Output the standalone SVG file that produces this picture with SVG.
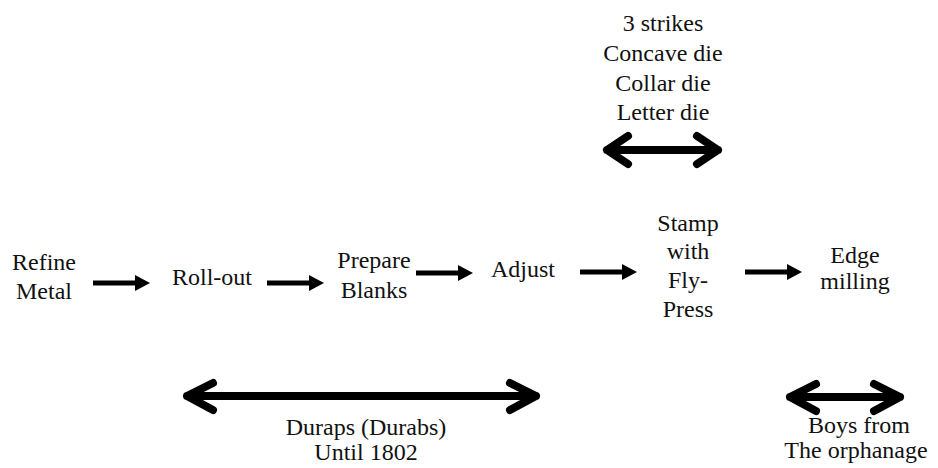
<svg xmlns="http://www.w3.org/2000/svg" width="938" height="468" viewBox="0 0 938 468">
<style>
text{font-family:'Liberation Serif','DejaVu Serif','Times New Roman',serif;font-size:24px;fill:#111;text-anchor:middle}
.arr{fill:#000}
.dbl{fill:none;stroke:#000;stroke-width:8;stroke-linecap:round;stroke-linejoin:round}
</style>
<defs>
<polygon id="ar" points="0,-2.5 42,-2.5 42,-8 57,0 42,8 42,2.5 0,2.5"/>
</defs>
<rect width="938" height="468" fill="#fff"/>
<g id="n-refine"><text x="44" y="270">Refine</text><text x="44" y="299">Metal</text></g>
<g id="n-rollout"><text x="212" y="285">Roll-out</text></g>
<g id="n-prepare"><text x="374" y="268">Prepare</text><text x="374" y="298">Blanks</text></g>
<g id="n-adjust"><text x="523" y="277">Adjust</text></g>
<g id="n-stamp"><text x="688" y="231">Stamp</text><text x="688" y="259">with</text><text x="688" y="288">Fly-</text><text x="688" y="317">Press</text></g>
<g id="n-edge"><text x="855" y="263">Edge</text><text x="855" y="289">milling</text></g>
<g id="n-strikes"><text x="663" y="31">3 strikes</text><text x="663" y="61">Concave die</text><text x="663" y="91">Collar die</text><text x="663" y="120">Letter die</text></g>
<g id="n-duraps"><text x="366" y="435">Duraps (Durabs)</text><text x="366" y="460">Until 1802</text></g>
<g id="n-boys"><text x="859" y="433">Boys from</text><text x="856" y="458">The orphanage</text></g>
<g id="connectors">
<use href="#ar" class="arr" transform="translate(93,283)"/>
<use href="#ar" class="arr" transform="translate(267,283)"/>
<use href="#ar" class="arr" transform="translate(416,273)"/>
<use href="#ar" class="arr" transform="translate(580,272)"/>
<use href="#ar" class="arr" transform="translate(745,272)"/>
<path class="dbl" d="M607,150H718M628,136L607,150L628,164M697,136L718,150L697,164"/>
<path class="dbl" d="M187,396H536M213,383L187,396L213,410M510,383L536,396L510,410"/>
<path class="dbl" d="M790,397H900M816,384L790,397L816,411M874,384L900,397L874,411"/>
</g>
</svg>
